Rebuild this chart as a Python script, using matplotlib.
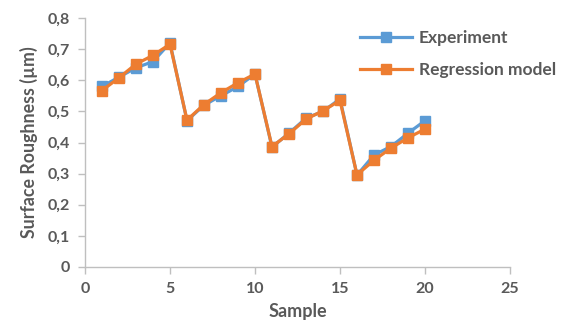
import matplotlib
matplotlib.use("Agg")
import matplotlib.pyplot as plt
from matplotlib.ticker import FuncFormatter, MultipleLocator

samples = list(range(1, 21))
experiment = [0.58, 0.61, 0.64, 0.66, 0.72, 0.47, 0.52, 0.55, 0.58, 0.62,
              0.385, 0.43, 0.478, 0.50, 0.54, 0.295, 0.36, 0.387, 0.43, 0.47]
regression = [0.567, 0.608, 0.652, 0.68, 0.716, 0.472, 0.522, 0.56, 0.592, 0.62,
              0.387, 0.428, 0.475, 0.502, 0.535, 0.296, 0.343, 0.382, 0.415, 0.443]

text_color = "#595959"
axis_color = "#BFBFBF"

plt.rcParams["font.family"] = ["Lato", "DejaVu Sans"]

fig = plt.figure(figsize=(5.7, 3.31), dpi=100)
ax = fig.add_axes([85 / 570, 1 - 267 / 331, 425 / 570, 249 / 331])

ax.plot(samples, experiment, color="#5B9BD5", lw=2.3, marker="s",
        markersize=7.5, label="Experiment")
ax.plot(samples, regression, color="#ED7D31", lw=2.3, marker="s",
        markersize=7.5, label="Regression model")

ax.set_xlim(0, 25)
ax.set_ylim(0, 0.8)
ax.xaxis.set_major_locator(MultipleLocator(5))
ax.yaxis.set_major_locator(MultipleLocator(0.1))
ax.yaxis.set_major_formatter(
    FuncFormatter(lambda v, _: "0" if abs(v) < 1e-9 else f"{v:.1f}".replace(".", ","))
)

for side in ["top", "right"]:
    ax.spines[side].set_visible(False)
for side in ["left", "bottom"]:
    ax.spines[side].set_color(axis_color)
    ax.spines[side].set_linewidth(1)

ax.tick_params(axis="both", colors=axis_color, length=5, width=1,
               labelcolor=text_color, labelsize=11.5, pad=6)
for lab in ax.get_xticklabels() + ax.get_yticklabels():
    lab.set_fontweight("bold")

ax.set_xlabel("Sample", fontsize=13, fontweight="bold", color=text_color, labelpad=5)
ax.set_ylabel("Surface Roughness (µm)", fontsize=12.8, fontweight="bold",
              color=text_color, labelpad=7)

# legend sits top right, outside the data area
leg = ax.legend(loc="upper left", bbox_to_anchor=(353 / 570, 1 - 23 / 331),
                bbox_transform=fig.transFigure, frameon=False,
                prop={"weight": "bold", "size": 12.5}, labelspacing=0.95,
                handlelength=3.0, handletextpad=0.4, borderaxespad=0)
for t in leg.get_texts():
    t.set_color(text_color)

fig.savefig("out.png", dpi=100)
